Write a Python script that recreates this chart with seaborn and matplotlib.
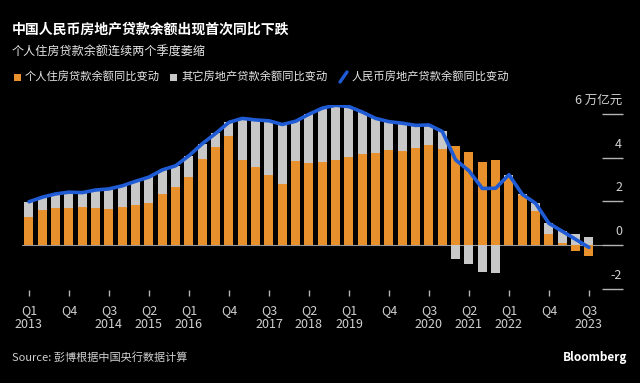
import numpy as np
import pandas as pd
import matplotlib
matplotlib.use("Agg")
import matplotlib.pyplot as plt
import matplotlib.transforms as mtransforms
from matplotlib.patches import Rectangle
from matplotlib.lines import Line2D
import seaborn as sns

# ---------------- data ----------------
years = [2013, 2014, 2015, 2016, 2017, 2018, 2019, 2020, 2021, 2022, 2023]
quarter_names = ["Q1", "Q2", "Q3", "Q4"]

# 个人住房贷款余额同比变动 (万亿元)
personal = [1.30, 1.60, 1.71, 1.71, 1.74, 1.71, 1.67, 1.73, 1.82, 1.91, 2.34, 2.67,
            3.10, 3.93, 4.50, 5.00, 3.90, 3.57, 3.20, 2.79, 3.85, 3.76, 3.80, 3.88,
            4.04, 4.15, 4.20, 4.35, 4.31, 4.44, 4.59, 4.42, 4.55, 4.25, 3.81, 3.90,
            3.10, 2.31, 1.55, 0.49, 0.10, -0.26, -0.49]
# 其它房地产贷款余额同比变动 (万亿元)
other = [0.68, 0.59, 0.63, 0.71, 0.66, 0.81, 0.90, 0.98, 1.10, 1.20, 1.10, 0.96,
         0.99, 0.71, 0.61, 0.62, 1.90, 2.16, 2.49, 2.73, 1.82, 2.23, 2.47, 2.52,
         2.30, 1.94, 1.60, 1.30, 1.27, 1.04, 0.91, 0.78, -0.65, -0.85, -1.22, -1.30,
         0.12, 0.01, 0.36, 0.50, 0.53, 0.52, 0.38]

ytick_values = [-2, 0, 2, 4, 6]
ytick_labels = ["-2", "0", "2", "4", "6 万亿元"]

title = "中国人民币房地产贷款余额出现首次同比下跌"
subtitle = "个人住房贷款余额连续两个季度萎缩"
legend_labels = ["个人住房贷款余额同比变动", "其它房地产贷款余额同比变动", "人民币房地产贷款余额同比变动"]
source = "Source: 彭博根据中国央行数据计算"
brand = "Bloomberg"

# ---------------- derived ----------------
n = len(personal)
periods = [(y, q) for y in years for q in quarter_names][:n]
df = pd.DataFrame({
    "idx": np.arange(n),
    "year": [p[0] for p in periods],
    "quarter": [p[1] for p in periods],
    "personal": personal,
    "other": other,
})
df["total"] = df["personal"] + df["other"]
df["other_bottom"] = np.where(df["other"] >= 0,
                              np.maximum(df["personal"], 0),
                              np.minimum(df["personal"], 0))

tick_idx = list(range(0, n, 3))
tick_lbls = []
prev_year = None
for i in tick_idx:
    y, q = periods[i]
    tick_lbls.append(f"{q}\n{y}" if y != prev_year else f"{q}\n")
    prev_year = y

# ---------------- style ----------------
ORANGE = "#E8912C"
GRAY = "#C8C8C8"
BLUE = "#1E5BD4"
BG = "#000000"
TXT = "#E6E6E6"
TICK = "#B4B4B4"

sns.set_theme(style="dark", rc={"axes.facecolor": BG, "figure.facecolor": BG})
plt.rcParams["font.family"] = ["Noto Sans CJK SC", "DejaVu Sans"]

W, H = 640, 383
fig = plt.figure(figsize=(6.4, 3.83), dpi=100, facecolor=BG)

px_unit = 21.83
y_zero_px = 245
ax_top_px, ax_bot_px = 105, 290
ax_left_px, ax_right_px = 22.3, 623
ax = fig.add_axes([ax_left_px / W, 1 - ax_bot_px / H,
                   (ax_right_px - ax_left_px) / W, (ax_bot_px - ax_top_px) / H])
ax.set_facecolor(BG)

bar_w = 0.68
ax.axhline(0, color="#9a9a9a", lw=0.8, xmax=(602 - ax_left_px) / (ax_right_px - ax_left_px), zorder=0.5)
ax.bar(df["idx"], df["personal"], width=bar_w, color=ORANGE, zorder=2, linewidth=0)
ax.bar(df["idx"], df["other"], bottom=df["other_bottom"], width=bar_w, color=GRAY, zorder=2, linewidth=0)
sns.lineplot(x=df["idx"], y=df["total"], ax=ax, color=BLUE, lw=2.6, zorder=3,
             solid_capstyle="round", solid_joinstyle="round")

ax.set_xlim(-0.5, (ax_right_px - ax_left_px) / 13.333 - 0.5)
ax.set_ylim(-(ax_bot_px - y_zero_px) / px_unit, (y_zero_px - ax_top_px) / px_unit)
for s in ax.spines.values():
    s.set_visible(False)
ax.grid(False)
ax.set_xlabel("")
ax.set_ylabel("")

ax.set_xticks(tick_idx)
ax.set_xticklabels(tick_lbls, color="#D0D0D0", fontsize=9, linespacing=1.15)
ax.tick_params(axis="x", bottom=True, direction="out", length=4, width=1, color=TICK, pad=6)

ax.yaxis.tick_right()
ax.set_yticks(ytick_values)
ax.tick_params(axis="y", right=True, left=False, direction="in", length=15, width=1,
               color=TICK, labelright=False, labelleft=False)
trans = mtransforms.blended_transform_factory(ax.transAxes, ax.transData)
trans = mtransforms.offset_copy(trans, fig=fig, x=-1, y=13.5, units="dots")
for v, lab in zip(ytick_values, ytick_labels):
    ax.text(1.0, v, lab, transform=trans, ha="right", va="center", color="#D0D0D0", fontsize=9)

# ---------------- texts ----------------
fig.text(12 / W, 1 - 30 / H, title, color="#FFFFFF", fontsize=10, fontweight="bold", va="center", ha="left")
fig.text(12 / W, 1 - 51 / H, subtitle, color=TXT, fontsize=8.7, va="center", ha="left")

ly = 1 - 77 / H
fig.add_artist(Rectangle((14 / W, 1 - 80.5 / H), 6.5 / W, 6.5 / H, transform=fig.transFigure,
                         facecolor=ORANGE, edgecolor="none"))
fig.text(25 / W, ly, legend_labels[0], color=TXT, fontsize=8.1, va="center", ha="left")
fig.add_artist(Rectangle((170 / W, 1 - 80.5 / H), 6.5 / W, 6.5 / H, transform=fig.transFigure,
                         facecolor=GRAY, edgecolor="none"))
fig.text(181 / W, ly, legend_labels[1], color=TXT, fontsize=8.1, va="center", ha="left")
fig.add_artist(Line2D([340 / W, 347 / W], [1 - 82 / H, 1 - 72 / H], transform=fig.transFigure,
                      color=BLUE, lw=2.4, solid_capstyle="round"))
fig.text(352 / W, ly, legend_labels[2], color=TXT, fontsize=8.1, va="center", ha="left")

fig.text(12 / W, 1 - 357 / H, source, color="#D0D0D0", fontsize=8, va="center", ha="left")
fig.text(627 / W, 1 - 357 / H, brand, color="#FFFFFF", fontsize=8.5, fontweight="bold", va="center", ha="right")

fig.savefig("out.png", dpi=100, facecolor=BG)
